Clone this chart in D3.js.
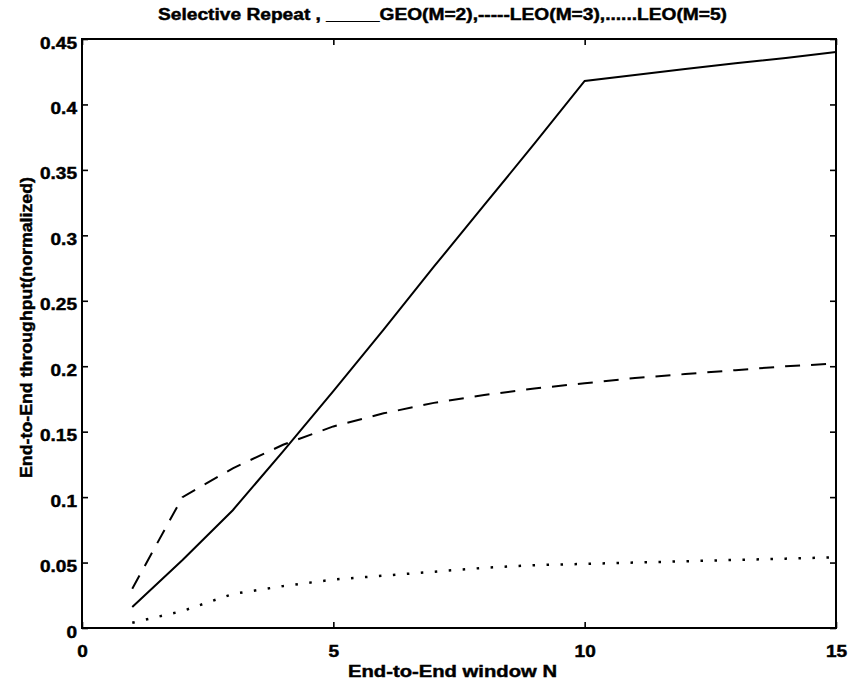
<!DOCTYPE html>
<html><head><meta charset="utf-8">
<script src="https://cdn.jsdelivr.net/npm/d3@7"></script>
<style>
body{margin:0;background:#fff;}
text{font-family:"Liberation Sans",Arial,Helvetica,sans-serif;font-weight:bold;fill:#000;stroke:#000;stroke-width:0.45px;}
</style></head>
<body><svg id="c" width="853" height="692"></svg>
<script>
const windowN = [1,2,3,4,5,6,7,8,9,10,11,12,13,14,15];
const geoM2 = [0.016,0.052,0.090,0.135,0.181,0.228,0.276,0.323,0.370,0.418,0.4225,0.427,0.4315,0.4355,0.440];
const leoM3 = [0.030,0.100,0.122,0.140,0.154,0.164,0.172,0.178,0.183,0.187,0.191,0.194,0.197,0.200,0.202];
const leoM5 = [0.004,0.013,0.026,0.032,0.037,0.040,0.043,0.046,0.048,0.049,0.050,0.051,0.052,0.053,0.054];
const xTicks = [0,5,10,15];
const yTicks = [0,0.05,0.1,0.15,0.2,0.25,0.3,0.35,0.4,0.45];
const titleText = "Selective Repeat ,  _____GEO(M=2),-----LEO(M=3),......LEO(M=5)";
const xLabel = "End-to-End window N";
const yLabel = "End-to-End throughput(normalized)";

const svg = d3.select("#c");
const L=82,R=836,T=39,B=628;
const x = d3.scaleLinear().domain([0,15]).range([L,R]);
const y = d3.scaleLinear().domain([0,0.45]).range([B,T]);

svg.append("rect").attr("x",L).attr("y",T).attr("width",R-L).attr("height",B-T)
  .attr("fill","none").attr("stroke","#000").attr("stroke-width",2);

function styleAxis(g){ g.select(".domain").remove(); g.selectAll(".tick line").attr("stroke","#000").attr("stroke-width",1.6); }

const gb = svg.append("g").attr("transform",`translate(0,${B})`)
  .call(d3.axisBottom(x).tickValues(xTicks).tickSize(-6).tickFormat(d3.format("d")));
styleAxis(gb);
gb.selectAll("text").attr("y",29).attr("dy",0).attr("font-size",17).attr("class","stretch");
const gt = svg.append("g").attr("transform",`translate(0,${T})`)
  .call(d3.axisTop(x).tickValues(xTicks).tickSize(-6).tickFormat(""));
styleAxis(gt);
const gl = svg.append("g").attr("transform",`translate(${L},0)`)
  .call(d3.axisLeft(y).tickValues(yTicks).tickSize(-6).tickFormat(d=>d===0?"0":String(+d.toFixed(2))));
styleAxis(gl);
gl.selectAll("text").attr("x",-5).attr("dy",9).attr("font-size",17).attr("text-anchor","end").attr("class","stretch");
const gr = svg.append("g").attr("transform",`translate(${R},0)`)
  .call(d3.axisRight(y).tickValues(yTicks).tickSize(-6).tickFormat(""));
styleAxis(gr);

const line = d3.line().x((d,i)=>x(windowN[i])).y(d=>y(d));
svg.append("path").datum(geoM2).attr("d",line).attr("fill","none").attr("stroke","#000").attr("stroke-width",2);
svg.append("path").datum(leoM3).attr("d",line).attr("fill","none").attr("stroke","#000").attr("stroke-width",2).attr("stroke-dasharray","15,11");
svg.append("path").datum(leoM5).attr("d",line).attr("fill","none").attr("stroke","#000").attr("stroke-width",2.5).attr("stroke-dasharray","2.5,11.5");

svg.append("text").attr("x",158).attr("y",20).attr("font-size",16).text(titleText)
  .attr("textLength",569).attr("lengthAdjust","spacingAndGlyphs");
svg.append("text").attr("x",348).attr("y",677).attr("font-size",17).text(xLabel)
  .attr("textLength",209).attr("lengthAdjust","spacingAndGlyphs");
svg.append("text").attr("transform","translate(32,478) rotate(-90)").attr("font-size",17).text(yLabel)
  .attr("textLength",301).attr("lengthAdjust","spacingAndGlyphs");

svg.selectAll("text.stretch").each(function(){
  const w=this.getComputedTextLength();
  d3.select(this).attr("textLength",w*1.12).attr("lengthAdjust","spacingAndGlyphs");
});
</script></body></html>
